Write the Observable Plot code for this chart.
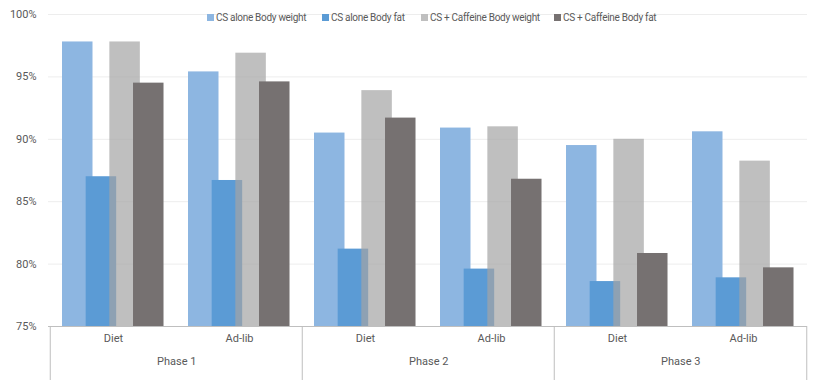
<!DOCTYPE html>
<html>
<head>
<meta charset="utf-8">
<script src="https://cdn.jsdelivr.net/npm/d3@7"></script>
<script src="https://cdn.jsdelivr.net/npm/@observablehq/plot@0.6"></script>
<style>
  html, body { margin: 0; padding: 0; background: #fff; }
  #wrap { position: relative; width: 822px; height: 380px; font-family: Roboto, "Liberation Sans", sans-serif; }
  #legend { position: absolute; left: 0; top: 0; width: 822px; height: 30px; }
  .li { position: absolute; top: 11px; font-size: 10px; letter-spacing: -0.3px; color: #595959; white-space: nowrap; line-height: 14px; }
  .sw { display: inline-block; width: 7px; height: 7px; margin-right: 2px; vertical-align: 0px; }
</style>
</head>
<body>
<div id="wrap"><div id="chart"></div><div id="legend"></div></div>
<script>
// ---- data ----
const phases = ["Phase 1", "Phase 1", "Phase 2", "Phase 2", "Phase 3", "Phase 3"];
const conditions = ["Diet", "Ad-lib", "Diet", "Ad-lib", "Diet", "Ad-lib"];
const seriesNames = ["CS alone Body weight", "CS alone Body fat", "CS + Caffeine Body weight", "CS + Caffeine Body fat"];
const csAloneWeight = [97.8, 95.4, 90.5, 90.9, 89.5, 90.6];
const csAloneFat = [87.0, 86.7, 81.2, 79.6, 78.6, 78.9];
const csCaffWeight = [97.8, 96.9, 93.9, 91.0, 90.0, 88.25];
const csCaffFat = [94.5, 94.6, 91.7, 86.8, 80.85, 79.7];
const yTicks = [75, 80, 85, 90, 95, 100];

// ---- styles ----
const colors = ["#8DB6E1", "#5B9BD5", "#A4A4A4", "#767171"];
const opacities = [1, 1, 0.7, 1];
const swatchColors = ["#8DB6E1", "#5B9BD5", "#BFBFBF", "#767171"];
const legendLeft = [207, 322, 421, 554];

const seriesValues = [csAloneWeight, csAloneFat, csCaffWeight, csCaffFat];
const rows = conditions.map((c, i) => ({key: phases[i] + "|" + c, phase: phases[i], cond: c, i}));
const keys = rows.map(d => d.key);

const W = 822, H = 380, mL = 48, mR = 15, mT = 14, mB = 54;
const band = (W - mL - mR) / keys.length;
const barW = 31, step = 23.67, lead = 12;

const barMarks = seriesValues.map((vals, s) => {
  const inL = lead + step * s;
  return Plot.barY(rows, {
    x: "key", y1: 75, y2: d => vals[d.i],
    fill: colors[s], fillOpacity: opacities[s],
    insetLeft: inL, insetRight: band - barW - inL
  });
});

const sepRows = rows.filter(d => d.cond === "Diet");
const phaseRows = rows.filter(d => d.cond === "Diet");

const chart = Plot.plot({
  width: W, height: H,
  marginLeft: mL, marginRight: mR, marginTop: mT, marginBottom: mB,
  style: {fontFamily: "Roboto, 'Liberation Sans', sans-serif", fontSize: "10.5px", color: "#595959", background: "#fff"},
  x: {type: "band", domain: keys, padding: 0, axis: null},
  y: {domain: [75, 100], axis: null},
  marks: [
    Plot.gridY(yTicks.filter(t => t > 75), {stroke: "#EDEDED", strokeOpacity: 1}),
    ...barMarks,
    Plot.ruleY([75], {stroke: "#BFBFBF"}),
    Plot.axisY({ticks: yTicks, tickSize: 0, tickPadding: 12, tickFormat: d => d + "%", fill: "#595959", fontSize: 11}),
    Plot.ruleX(sepRows, {x: "key", dx: -band / 2, stroke: "#BFBFBF", insetTop: H - mT - mB, insetBottom: -mB}),
    Plot.ruleX([keys[keys.length - 1]], {x: d => d, dx: band / 2, stroke: "#BFBFBF", insetTop: H - mT - mB, insetBottom: -mB}),
    Plot.text(rows, {x: "key", text: "cond", frameAnchor: "bottom", dy: 15, fill: "#595959", fontSize: 11}),
    Plot.text(phaseRows, {x: "key", text: "phase", frameAnchor: "bottom", dx: band / 2, dy: 38, fill: "#595959", fontSize: 11})
  ]
});
document.getElementById("chart").appendChild(chart);

const legend = document.getElementById("legend");
seriesNames.forEach((n, s) => {
  const item = document.createElement("div");
  item.className = "li";
  item.style.left = legendLeft[s] + "px";
  item.innerHTML = `<span class="sw" style="background:${swatchColors[s]}"></span>`;
  item.appendChild(document.createTextNode(n));
  legend.appendChild(item);
});
</script>
</body>
</html>
